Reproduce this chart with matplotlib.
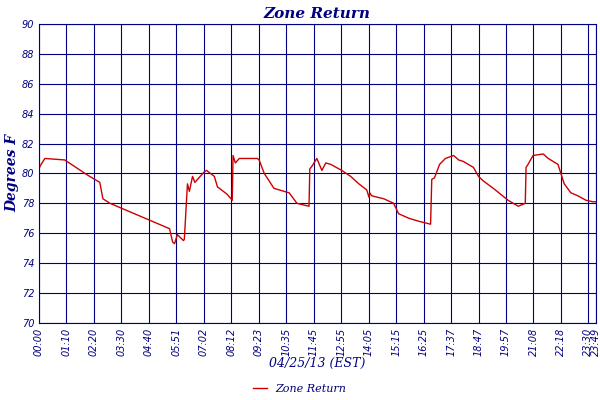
import matplotlib.pyplot as plt

# minutes since midnight and temperature (deg F)
minutes = [0, 3, 15, 66, 118, 130, 156, 164, 182, 335, 343, 348, 355, 371, 373, 381, 386, 394, 400, 424,
           430, 450, 458, 483, 496, 498, 504, 514, 527, 560, 565, 578, 603, 642, 662, 693, 695, 701,
           713, 726, 736, 749, 777, 800, 821, 841, 847, 849, 854, 885, 910, 923, 949, 974, 1005, 1008,
           1015, 1028, 1043, 1064, 1077, 1089, 1115, 1128, 1140, 1166, 1204, 1230, 1248, 1250, 1255,
           1268, 1294, 1307, 1332, 1348, 1365, 1383, 1404, 1422, 1432]
temps = [80.3, 80.5, 81.0, 80.9, 80.0, 79.8, 79.4, 78.3, 78.0, 76.3, 75.4, 75.3, 75.9, 75.5, 75.6, 79.3,
         78.8, 79.8, 79.4, 80.1, 80.2, 79.8, 79.1, 78.6, 78.2, 81.2, 80.7, 81.0, 81.0, 81.0, 80.9,
         80.0, 79.0, 78.7, 78.0, 77.8, 80.3, 80.5, 81.0, 80.2, 80.7, 80.6, 80.2, 79.8, 79.3, 78.9,
         78.4, 78.7, 78.5, 78.3, 78.0, 77.3, 77.0, 76.8, 76.6, 79.6, 79.7, 80.6, 81.0, 81.2, 80.9,
         80.8, 80.4, 79.8, 79.5, 79.0, 78.2, 77.8, 78.0, 80.4, 80.6, 81.2, 81.3, 81.0, 80.6, 79.3,
         78.7, 78.5, 78.2, 78.1, 78.1]
tick_labels = ["00:00", "01:10", "02:20", "03:30", "04:40", "05:51", "07:02", "08:12", "09:23", "10:35",
               "11:45", "12:55", "14:05", "15:15", "16:25", "17:37", "18:47", "19:57", "21:08", "22:18",
               "23:30", "23:49"]
tick_pos = [int(t[:2]) * 60 + int(t[3:]) for t in tick_labels]
tick_pos[1:-1] = [i * 70.5 for i in range(1, 21)]

navy = "#000080"
fig, ax = plt.subplots(figsize=(6, 4), dpi=100)
fig.subplots_adjust(left=0.065, right=0.993, top=0.94, bottom=0.193)
ax.plot(minutes, temps, color="#cc0000", lw=1, label="Zone Return")
ax.set_xlim(0, 1429)
ax.set_ylim(70, 90)
ax.set_yticks(range(70, 91, 2))
ax.set_xticks(tick_pos)
ax.set_xticklabels(tick_labels, rotation=90, fontsize=7, color=navy, style="italic")
ax.tick_params(axis="y", labelsize=7, labelcolor=navy, length=0)
ax.tick_params(axis="x", length=0)
for lab in ax.get_yticklabels():
    lab.set_style("italic")
ax.grid(True, color=navy, lw=0.8)
for s in ax.spines.values():
    s.set_color(navy)
ax.set_title("Zone Return", fontsize=11, color=navy, style="italic", weight="bold", family="DejaVu Serif", pad=4)
ax.set_ylabel("Degrees F", fontsize=10, color=navy, style="italic", weight="bold", family="DejaVu Serif", labelpad=2)
ax.set_xlabel("04/25/13 (EST)", fontsize=9, color=navy, style="italic", family="DejaVu Serif", labelpad=1)
leg = fig.legend(loc="lower center", bbox_to_anchor=(0.5, -0.01), frameon=False,
                 handlelength=1.2, prop={"family": "DejaVu Serif", "style": "italic", "size": 8})
for t in leg.get_texts():
    t.set_color(navy)
fig.savefig("out.png")
